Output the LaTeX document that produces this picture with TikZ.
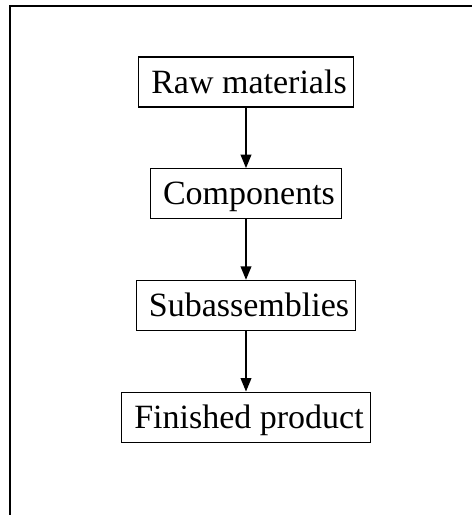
\documentclass[tikz,border=0pt]{standalone}
\usepackage{fontspec}
\setmainfont{Liberation Serif}
\usetikzlibrary{arrows.meta}

\begin{document}
\begin{tikzpicture}[x = 0.75pt, y = -0.75pt, % pixel units
                > = {Triangle[length = 10pt, width = 8pt]}, % arrow head style
                node distance = 83.8pt, % distance between nodes
                line width = 1pt
            ]

            \tikzstyle{every node}=[draw = black, rectangle, line width = 1pt,
            font = \fontsize{25.5}{30}\selectfont, inner xsep = 5pt,
            inner ysep = 0pt, text height = 27pt, text depth = 10.5pt,
            execute at begin node = \hspace{4.5pt}]

            \useasboundingbox (0,0) rectangle (472,515);
            \draw[line width = 1pt] (472,6) -- (10,6) -- (10,515);

            \node (raw) at (246,82) {Raw materials}; \node (comp) [below
                of=raw] {Components}; \node (sub) [below of=comp]
            {Subassemblies}; \node (fin) [below of=sub] {Finished product};

            \path[->] (raw) edge (comp); \path[->] (comp) edge (sub);
            \path[->] (sub) edge (fin);\end{tikzpicture}
\end{document}
